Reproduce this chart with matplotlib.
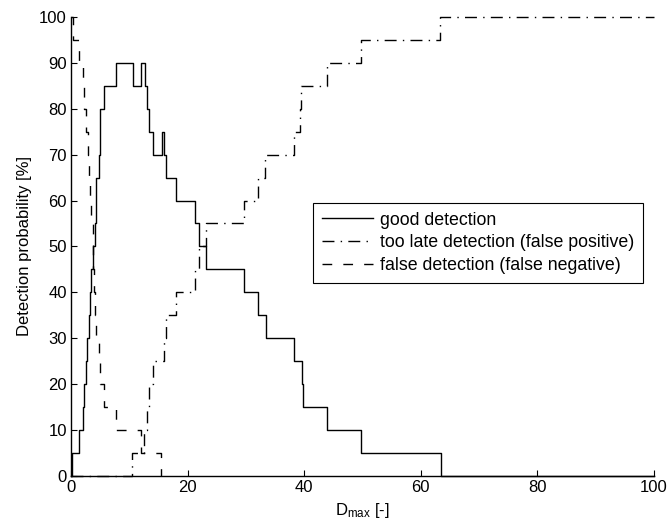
import matplotlib

matplotlib.use("Agg")
import matplotlib.pyplot as plt  # noqa: E402

plt.rcParams["font.family"] = ["Liberation Sans", "DejaVu Sans"]
plt.rcParams["mathtext.default"] = "regular"
plt.rcParams["lines.scale_dashes"] = False

# step curves (value holds from x[i] up to x[i+1])
good_x = [0, 0.1, 1.3, 2.0, 2.3, 2.5, 2.7, 3.0, 3.3, 3.5, 3.8, 4.05, 4.25, 4.3,
          4.75, 4.9, 5.0, 5.7, 7.8, 10.6, 12.0, 12.7, 13.0, 13.3, 14.0, 15.6,
          16.0, 16.3, 18.0, 21.2, 21.9, 23.2, 29.7, 32.0, 33.4, 38.3, 39.6,
          39.8, 44.0, 49.7, 63.5, 100]
good_y = [0, 5, 10, 15, 20, 25, 30, 35, 40, 45, 50, 55, 60, 65,
          70, 75, 80, 85, 90, 85, 90, 85, 80, 75, 70, 75,
          70, 65, 60, 55, 50, 45, 40, 35, 30, 25, 20,
          15, 10, 5, 0, 0]

late_x = [0, 10.5, 12.6, 13.0, 13.3, 14.0, 16.0, 16.3, 18.0, 21.2, 21.9, 23.2,
          29.7, 32.0, 33.3, 38.3, 39.2, 39.5, 44.0, 49.7, 63.3, 100]
late_y = [0, 5, 10, 15, 20, 25, 30, 35, 40, 45, 50, 55,
          60, 65, 70, 75, 80, 85, 90, 95, 100, 100]

false_x = [0, 0.4, 1.3, 2.1, 2.3, 2.6, 2.85, 3.0, 3.26, 3.5, 3.7, 3.85, 4.0,
           4.15, 4.3, 4.75, 4.86, 5.0, 5.6, 7.8, 12.0, 15.4]
false_y = [100, 95, 90, 85, 80, 75, 70, 65, 60, 55, 50, 45, 40,
           35, 30, 25, 25, 20, 15, 10, 5, 0]

labels = ["good detection", "too late detection (false positive)",
          "false detection (false negative)"]

fig = plt.figure(figsize=(6.7, 5.28), dpi=100)
ax = fig.add_axes([0.106, 0.0985, 0.870, 0.8695])

ax.step(good_x, good_y, where="post", color="black", lw=1, label=labels[0],
        clip_on=False)
ln, = ax.step(late_x, late_y, where="post", color="black", lw=1,
              label=labels[1], clip_on=False)
ln.set_dashes((8.6, 4.5, 1.0, 4.5))
ln, = ax.step(false_x, false_y, where="post", color="black", lw=1,
              label=labels[2], clip_on=False)
ln.set_dashes((7, 8))

ax.set_xlim(0, 100)
ax.set_ylim(0, 100)
ax.set_xticks(range(0, 101, 20))
ax.set_yticks(range(0, 101, 10))
ax.tick_params(direction="in", length=4, width=0.8, labelsize=12, pad=3,
               colors="black")
for side in ("top", "right"):
    ax.spines[side].set_visible(False)
for side in ("left", "bottom"):
    ax.spines[side].set_linewidth(1)

ax.set_xlabel(r"$D_{max}$ [-]", fontsize=12, labelpad=4)
ax.set_ylabel("Detection probability [%]", fontsize=12, labelpad=5)

leg = ax.legend(loc="upper left", bbox_to_anchor=(0.4146, 0.5954),
                fontsize=12.8, handlelength=2.9, handletextpad=0.4,
                borderaxespad=0, borderpad=0.5, labelspacing=0.33,
                fancybox=False, framealpha=1)
leg.get_frame().set_edgecolor("black")
leg.get_frame().set_linewidth(0.8)

fig.savefig("out.png", dpi=100)
plt.close(fig)
